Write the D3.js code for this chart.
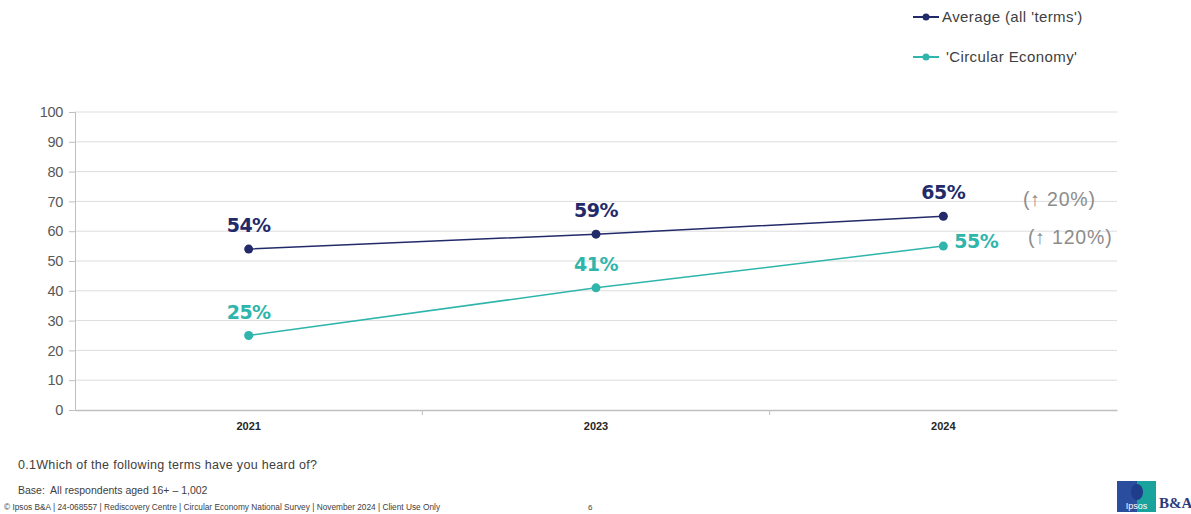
<!DOCTYPE html>
<html>
<head>
<meta charset="utf-8">
<script src="https://cdn.jsdelivr.net/npm/d3@7"></script>
<style>
	body { margin: 0; background: #fff; }
	svg { display: block; font-family: "Liberation Sans", Arial, sans-serif; }
</style>
</head>
<body>
<svg id="chart" width="1191" height="514"></svg>
<script>
	// datos
	var years = ["2021", "2023", "2024"];
	var averageValues = [54, 59, 65];
	var circularValues = [25, 41, 55];
	var yTicks = [0, 10, 20, 30, 40, 50, 60, 70, 80, 90, 100];
	var seriesNames = ["Average (all 'terms')", "'Circular Economy'"];
	var changeLabels = ["(\u2191 20%)", "(\u2191 120%)"];

	var navy = "#222a6a",
		teal = "#2fb5ab",
		grid = "#dddddd",
		axisColor = "#bfbfbf";

	var svg = d3.select("#chart");

	var x = d3.scaleBand()
		.domain(years)
		.range([75, 1117]);

	var y = d3.scaleLinear()
		.domain([0, 100])
		.range([410, 112]);

	// rejilla
	svg.append("g")
		.selectAll("line")
		.data(yTicks.filter(function(d) { return d > 0; }))
		.join("line")
		.attr("x1", 75)
		.attr("x2", 1117)
		.attr("y1", function(d) { return y(d); })
		.attr("y2", function(d) { return y(d); })
		.attr("stroke", grid)
		.attr("stroke-width", 1);

	// eje y
	var yAxis = svg.append("g")
		.attr("transform", "translate(75,0)")
		.call(d3.axisLeft(y).tickValues(yTicks).tickSize(6).tickPadding(6));

	yAxis.select(".domain").attr("stroke", axisColor);
	yAxis.selectAll(".tick line").attr("stroke", axisColor);
	yAxis.selectAll(".tick text")
		.attr("fill", "#595959")
		.style("font-size", "14.5px")
		.style("letter-spacing", "-0.3px");

	// eje x
	var xAxis = svg.append("g")
		.attr("transform", "translate(0," + y(0) + ")")
		.call(d3.axisBottom(x).tickSize(0).tickPadding(12));

	xAxis.select(".domain").attr("stroke", axisColor).attr("stroke-width", 1.5);
	xAxis.selectAll(".tick text")
		.attr("fill", "#262626")
		.style("font-size", "11px")
		.style("font-weight", "bold");

	svg.append("g")
		.selectAll("line")
		.data(years.slice(1))
		.join("line")
		.attr("x1", function(d) { return x(d); })
		.attr("x2", function(d) { return x(d); })
		.attr("y1", y(0))
		.attr("y2", y(0) + 5)
		.attr("stroke", axisColor);

	var cx = function(d, i) { return x(years[i]) + x.bandwidth() / 2; };

	var line = d3.line()
		.x(function(d, i) { return cx(d, i); })
		.y(function(d) { return y(d); });

	var series = [
		{ values: averageValues, color: navy },
		{ values: circularValues, color: teal }
	];

	series.forEach(function(s, k) {

		svg.append("path")
			.datum(s.values)
			.attr("d", line)
			.attr("fill", "none")
			.attr("stroke", s.color)
			.attr("stroke-width", 1.5);

		svg.append("g")
			.selectAll("circle")
			.data(s.values)
			.join("circle")
			.attr("cx", cx)
			.attr("cy", function(d) { return y(d); })
			.attr("r", 4.5)
			.attr("fill", s.color);

		svg.append("g")
			.selectAll("text")
			.data(s.values)
			.join("text")
			.attr("x", function(d, i) {
				// la última etiqueta de la serie teal va a la derecha del punto
				return (k === 1 && i === 2) ? cx(d, i) + 11 : cx(d, i);
			})
			.attr("y", function(d, i) {
				return (k === 1 && i === 2) ? y(d) + 2 : y(d) - 17;
			})
			.attr("text-anchor", function(d, i) {
				return (k === 1 && i === 2) ? "start" : "middle";
			})
			.attr("fill", s.color)
			.style("font-family", "'DejaVu Sans', sans-serif")
			.style("font-size", "19px")
			.style("font-weight", "bold")
			.style("letter-spacing", "-0.5px")
			.text(function(d) { return d + "%"; });
	});

	// variaciones
	svg.append("g")
		.selectAll("text")
		.data(changeLabels)
		.join("text")
		.attr("x", function(d, i) { return i === 0 ? 1023 : 1028; })
		.attr("y", function(d, i) { return y(series[i].values[2]) + (i === 0 ? -10 : -2); })
		.attr("fill", "#8c8c8c")
		.style("font-size", "19.5px")
		.style("letter-spacing", "0.8px")
		.text(function(d) { return d; });

	// leyenda
	var legend = svg.append("g")
		.selectAll("g")
		.data(seriesNames)
		.join("g")
		.attr("transform", function(d, i) { return "translate(913," + (17 + i * 40) + ")"; });

	legend.append("line")
		.attr("x1", 0)
		.attr("x2", 26)
		.attr("stroke", function(d, i) { return series[i].color; })
		.attr("stroke-width", 2);

	legend.append("circle")
		.attr("cx", 13)
		.attr("r", 3.5)
		.attr("fill", function(d, i) { return series[i].color; });

	legend.append("text")
		.attr("x", function(d, i) { return i === 0 ? 29 : 33; })
		.attr("dy", "0.35em")
		.attr("fill", "#404040")
		.style("font-size", "15px")
		.style("letter-spacing", "0.4px")
		.text(function(d) { return d; });

	// notas al pie
	var notes = svg.append("g")
		.attr("fill", "#404040");

	notes.append("text")
		.attr("x", 18)
		.attr("y", 469)
		.style("font-size", "12.5px")
		.style("letter-spacing", "0.3px")
		.text("0.1Which of the following terms have you heard of?");

	notes.append("text")
		.attr("x", 18)
		.attr("y", 494)
		.attr("xml:space", "preserve")
		.style("white-space", "pre")
		.style("font-size", "10.5px")
		.text("Base:  All respondents aged 16+ \u2013 1,002");

	notes.append("text")
		.attr("x", 4)
		.attr("y", 510)
		.style("font-size", "8.3px")
		.text("\u00a9 Ipsos B&A | 24-068557 | Rediscovery Centre | Circular Economy National Survey | November 2024 | Client Use Only");

	notes.append("text")
		.attr("x", 588)
		.attr("y", 510)
		.style("font-size", "8px")
		.text("6");

	// logo
	var logo = svg.append("g")
		.attr("transform", "translate(1117,481)");

	logo.append("rect")
		.attr("width", 20)
		.attr("height", 31)
		.attr("fill", "#2b4d9e");

	logo.append("rect")
		.attr("x", 20)
		.attr("width", 19)
		.attr("height", 31)
		.attr("fill", "#19a39c");

	logo.append("ellipse")
		.attr("cx", 20)
		.attr("cy", 11)
		.attr("rx", 6)
		.attr("ry", 8)
		.attr("fill", "#1f3d8a");

	logo.append("text")
		.attr("x", 19.5)
		.attr("y", 28)
		.attr("text-anchor", "middle")
		.attr("fill", "#fff")
		.style("font-size", "9px")
		.text("Ipsos");

	logo.append("text")
		.attr("x", 42)
		.attr("y", 27)
		.attr("fill", "#2a3a7a")
		.style("font-family", "'Liberation Serif', serif")
		.style("font-size", "15px")
		.style("font-weight", "bold")
		.text("B&A");
</script>
</body>
</html>
